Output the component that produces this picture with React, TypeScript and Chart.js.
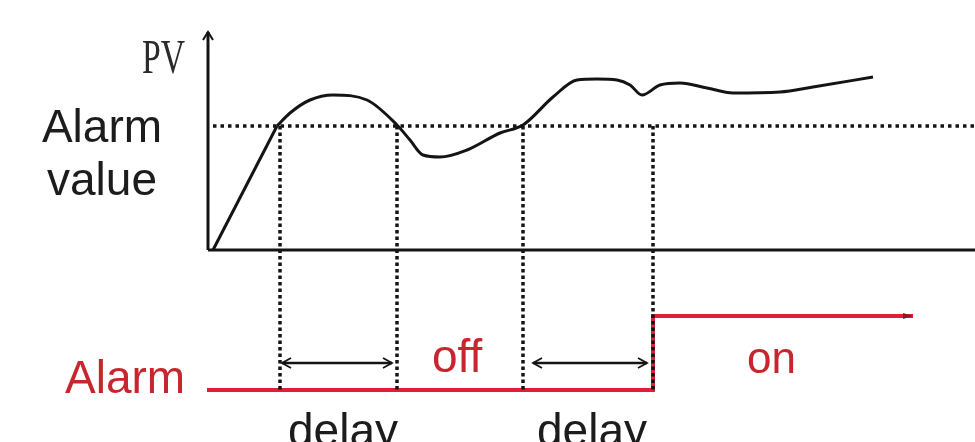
import React, { useEffect, useRef } from "react";
import { Chart, registerables } from "chart.js";

Chart.register(...registerables);

// Diagram data space: time (t) to the right, value (v) upward; origin at the PV axes corner.
const pvRampTime = [3, 67];
const pvRampValue = [0, 124];
const pvCurveTime = [67, 80, 100, 123, 157, 187, 200, 213, 230, 257, 290, 313, 343, 367, 387, 407, 420, 432, 450, 470, 497, 523, 570, 603, 663];
const pvCurveValue = [124, 137, 150, 155, 150, 125, 110, 95, 93, 100, 117, 125, 153, 170, 171, 170, 165, 155, 165, 167, 162, 157, 158, 163, 173];

const alarmValue = 124;
const crossTimes = [70, 187, 313, 443];

const alarmOffLevel = -140;
const alarmOnLevel = -66;
const alarmSignalTime = [-3, 443, 443, 703];
const alarmSignalLevel = [alarmOffLevel, alarmOffLevel, alarmOnLevel, alarmOnLevel];

const delayStart = [72, 323];
const delayEnd = [182, 437];
const delayLevel = -113;

const axisTop = 218;
const axisRight = 765;

const labelText = { pv: "PV", alarm1: "Alarm", alarm2: "value", alarmSig: "Alarm", off: "off", on: "on", delay: "delay" };

const BLACK = "#141414";
const RED = "#e01f37";
const RED_TEXT = "#c8262f";

function pts(xs: number[], ys: number[]) {
  return xs.map((x, i) => ({ x, y: ys[i] }));
}

export default function App() {
  const ref = useRef<HTMLCanvasElement | null>(null);
  useEffect(() => {
    document.body.style.margin = "0";
    const canvas = ref.current!;
    const lineDs = (data: any[], color: string, width: number, extra: any = {}) => ({
      type: "line" as const,
      data,
      borderColor: color,
      backgroundColor: color,
      borderWidth: width,
      pointRadius: 0,
      showLine: true,
      fill: false,
      tension: 0,
      ...extra,
    });

    const datasets: any[] = [];
    crossTimes.forEach((t) => {
      datasets.push(lineDs([{ x: t, y: alarmValue }, { x: t, y: alarmOffLevel }], BLACK, 3.5, { borderDash: [3.5, 3] }));
    });
    datasets.push(lineDs([{ x: 3, y: alarmValue }, { x: axisRight, y: alarmValue }], BLACK, 3.5, { borderDash: [3.5, 4] }));
    datasets.push(lineDs(pts(pvRampTime, pvRampValue), BLACK, 3));
    datasets.push(lineDs(pts(pvCurveTime, pvCurveValue), BLACK, 3, { cubicInterpolationMode: "monotone" }));
    datasets.push(lineDs([{ x: -2, y: 0 }, { x: -2, y: axisTop }], BLACK, 3));
    datasets.push(lineDs([{ x: -2, y: 0 }, { x: axisRight, y: 0 }], BLACK, 3));
    datasets.push(lineDs(pts(alarmSignalTime, alarmSignalLevel), RED, 4));

    const overlay = {
      id: "overlay",
      afterDatasetsDraw(chart: any) {
        const { ctx, scales } = chart;
        const X = (t: number) => scales.x.getPixelForValue(t);
        const Y = (v: number) => scales.y.getPixelForValue(v);
        ctx.save();
        // axis arrowhead
        ctx.strokeStyle = BLACK;
        ctx.lineWidth = 2;
        ctx.beginPath();
        ctx.moveTo(X(-2) - 5, Y(axisTop) + 8);
        ctx.lineTo(X(-2), Y(axisTop));
        ctx.lineTo(X(-2) + 5, Y(axisTop) + 8);
        ctx.stroke();
        // delay double arrows
        delayStart.forEach((s, i) => {
          const x1 = X(s), x2 = X(delayEnd[i]), y = Y(delayLevel);
          ctx.strokeStyle = BLACK;
          ctx.lineWidth = 2.5;
          ctx.beginPath();
          ctx.moveTo(x1, y);
          ctx.lineTo(x2, y);
          ctx.stroke();
          ctx.lineWidth = 1.8;
          ctx.beginPath();
          ctx.moveTo(x1 + 9, y - 5);
          ctx.lineTo(x1, y);
          ctx.lineTo(x1 + 9, y + 5);
          ctx.moveTo(x2 - 9, y - 5);
          ctx.lineTo(x2, y);
          ctx.lineTo(x2 - 9, y + 5);
          ctx.stroke();
        });
        // small head at end of alarm-on line
        const ex = X(alarmSignalTime[3]), ey = Y(alarmOnLevel);
        ctx.fillStyle = "#8a1a2a";
        ctx.beginPath();
        ctx.moveTo(ex, ey);
        ctx.lineTo(ex - 10, ey - 3);
        ctx.lineTo(ex - 10, ey + 3);
        ctx.closePath();
        ctx.fill();

        // texts
        ctx.textBaseline = "alphabetic";
        ctx.font = '46px "Liberation Sans", Arial, sans-serif';
        ctx.fillStyle = "#1c1c1c";
        ctx.textAlign = "center";
        ctx.fillText(labelText.alarm1, 102, 142);
        ctx.fillText(labelText.alarm2, 102, 195);
        ctx.textAlign = "left";
        ctx.fillStyle = RED_TEXT;
        ctx.fillText(labelText.alarmSig, 65, 393);
        ctx.fillText(labelText.off, 432, 372);
        ctx.font = '44px "Liberation Sans", Arial, sans-serif';
        ctx.fillText(labelText.on, 747, 373);
        ctx.font = '46px "Liberation Sans", Arial, sans-serif';
        ctx.fillStyle = "#1c1c1c";
        ctx.fillText(labelText.delay, 288, 446);
        ctx.fillText(labelText.delay, 537, 446);
        // PV serif condensed
        ctx.save();
        ctx.translate(142, 73);
        ctx.scale(0.7, 1);
        ctx.font = '48px "Liberation Serif", "Times New Roman", serif';
        ctx.fillStyle = "#2a2a2a";
        ctx.fillText(labelText.pv, 0, 0);
        ctx.restore();
        ctx.restore();
      },
    };

    const chart = new Chart(canvas, {
      type: "scatter",
      data: { datasets },
      options: {
        animation: false,
        responsive: false,
        maintainAspectRatio: false,
        devicePixelRatio: 1,
        layout: { padding: 0 },
        plugins: { legend: { display: false }, tooltip: { enabled: false } },
        events: [],
        scales: {
          x: { type: "linear", min: -210, max: 765, display: false },
          y: { type: "linear", min: -192, max: 250, display: false },
        },
      },
      plugins: [overlay],
    });
    return () => chart.destroy();
  }, []);
  return <canvas ref={ref} width={975} height={442} style={{ display: "block", background: "#fff" }} />;
}
